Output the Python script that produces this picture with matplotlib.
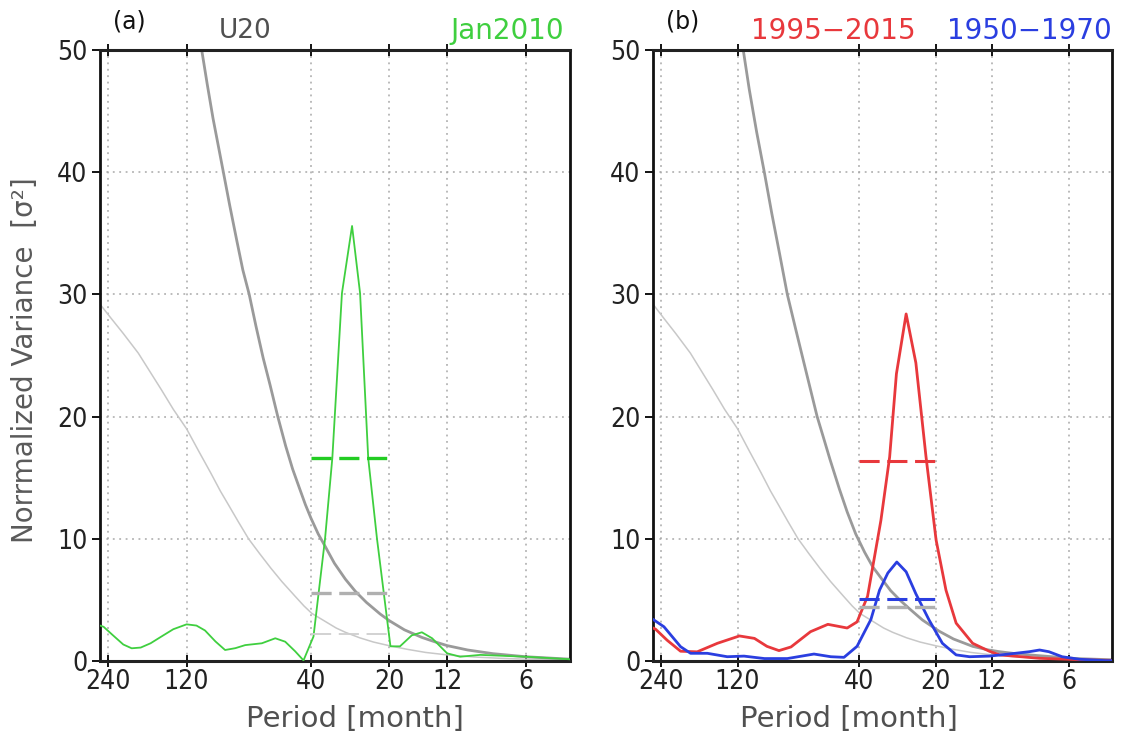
import matplotlib
matplotlib.use("Agg")
import matplotlib.pyplot as plt
from matplotlib.ticker import FixedLocator, NullLocator

# ---------------- data ----------------
tick_periods = [240, 120, 40, 20, 12, 6]
tick_labels = ["240", "120", "40", "20", "12", "6"]
y_ticks = [0, 10, 20, 30, 40, 50]

# red-noise background spectrum (thin) shared by both panels
rn_period = [258, 235, 210, 184, 165, 150, 135, 120, 108, 97, 89, 83, 76, 69.4, 63, 57, 51.7, 46, 42.5,
             39.7, 35, 32, 29.5, 26, 23, 20, 17, 14.5, 12, 9.5, 7.5, 6, 4.05]
rn_value = [29.2, 28.1, 26.8, 25.2, 23.6, 22.2, 20.6, 19.0, 17.2, 15.4, 13.9, 12.8, 11.4, 10.0, 8.8, 7.6, 6.5, 5.3, 4.5,
            3.9, 3.2, 2.7, 2.35, 1.9, 1.55, 1.25, 0.95, 0.7, 0.5, 0.33, 0.22, 0.15, 0.08]

# 95% significance curve, panel (a)
sig_a_period = [105, 100, 95, 90, 86.7, 82, 77, 73, 69, 65, 61, 57.4, 53.6, 50, 47, 44.7, 42, 40, 37.5,
                35.3, 32.5, 29.5, 27, 24.5, 21.7, 20, 17.5, 15, 13.5, 12, 10, 8, 6, 4.05]
sig_a_value = [50, 47.2, 44.4, 41.8, 40, 37.3, 34.4, 32.0, 30, 27.4, 24.8, 22.6, 20, 17.6, 15.7, 14.4, 12.8, 11.7, 10.4,
               9.4, 8.0, 6.7, 5.7, 4.8, 3.85, 3.3, 2.55, 1.93, 1.6, 1.26, 0.9, 0.6, 0.35, 0.15]

# 95% significance curve, panel (b)
sig_b_period = [114, 108, 101, 94.2, 88, 82, 76.5, 71, 66, 62, 58.4, 55, 52, 47.8, 44.5, 41.2, 38, 35.3,
                32.5, 30, 27.5, 25.4, 22.5, 19.4, 17, 14.3, 12.5, 11.2, 9.5, 8, 6.5, 5.6, 4.05]
sig_b_value = [50, 46.8, 43.3, 40, 36.6, 33.3, 30, 27.2, 24.5, 22.2, 20, 18.2, 16.5, 14.1, 12.2, 10.4, 8.9, 7.7,
               6.7, 5.75, 4.95, 4.3, 3.35, 2.45, 1.8, 1.2, 0.92, 0.76, 0.58, 0.45, 0.3, 0.2, 0.1]

# Jan2010 spectrum, panel (a)
jan_period = [258, 250, 230, 210, 195, 180, 165, 150, 135, 120, 110, 102, 93, 85.4, 78, 71.5, 61.7, 54.8, 50.2, 46, 42.7,
              39.1, 35.3, 33.1, 30.4, 27.8, 25.9, 24.1, 22.3, 19.8, 18.2, 16.4, 15.0, 13.7, 12, 10.7, 8.95, 6, 4.05]
jan_value = [2.9, 2.8, 2.1, 1.35, 1.04, 1.1, 1.45, 2.0, 2.6, 3.0, 2.9, 2.5, 1.6, 0.9, 1.05, 1.3, 1.45, 1.86, 1.58, 0.8, 0.05,
             2.0, 10.0, 16.6, 30.1, 35.6, 30.1, 16.6, 10.0, 1.2, 1.2, 2.1, 2.35, 1.86, 0.63, 0.35, 0.5, 0.35, 0.14]

# 1995-2015 spectrum, panel (b)
red_period = [258, 252, 227, 201, 173, 144, 118, 103, 92, 82.5, 74, 62, 53, 44.5, 40.7, 37, 32.8,
              30.3, 28.5, 26.1, 23.9, 21.8, 19.9, 18.2, 16.6, 14.3, 12.3, 11.2, 7.8, 4.96, 4.05]
red_value = [2.7, 2.6, 1.7, 0.8, 0.75, 1.45, 2.05, 1.85, 1.2, 0.85, 1.15, 2.4, 3.0, 2.7, 3.2, 5.3, 11.5,
             16.7, 23.5, 28.4, 24.4, 16.7, 9.9, 5.8, 3.1, 1.45, 0.8, 0.5, 0.22, 0.08, 0.05]

# 1950-1970 spectrum, panel (b)
blue_period = [258, 255.6, 233.6, 201, 183.6, 157.8, 131.7, 113.2, 94.1, 76.5, 60.1, 51.6, 45.8, 40.7,
               35.9, 33.2, 30.8, 28.4, 26.1, 23.9, 21.2, 18.8, 16.6, 14.7, 12.3, 10.3, 8.57, 7.8, 7.17,
               6.36, 5.43, 4.28, 4.05]
blue_value = [3.4, 3.35, 2.8, 1.17, 0.63, 0.63, 0.35, 0.4, 0.2, 0.2, 0.57, 0.35, 0.3, 1.2,
              3.4, 5.8, 7.2, 8.1, 7.3, 5.5, 3.35, 1.45, 0.5, 0.35, 0.4, 0.57, 0.76, 0.9, 0.76,
              0.35, 0.14, 0.03, 0.03]

# band means over the 40-20 month band
band = [40, 20]
jan_band_mean = 16.6
sig_a_band_mean = 5.6
rn_a_band_mean = 2.2
red_band_mean = 16.4
blue_band_mean = 5.05
sig_b_band_mean = 4.45

# ---------------- style ----------------
GREEN = "#3fcf3f"
GREEN_D = "#22cc22"
RED = "#e8383c"
BLUE = "#2a3ee0"
SIG_GRAY = "#9a9a9a"
RN_GRAY = "#c8c8c8"
TEXT_GRAY = "#505050"
FONT = ["DejaVu Sans"]

fig = plt.figure(figsize=(11.35, 7.4), dpi=100)
ax_a = fig.add_axes([100 / 1135, 1 - 661 / 740, 470 / 1135, 611 / 740])
ax_b = fig.add_axes([653 / 1135, 1 - 661 / 740, 459 / 1135, 611 / 740])


def frame(ax):
    ax.set_xscale("log")
    ax.set_xlim(258, 4.05)
    ax.set_ylim(0, 50)
    ax.xaxis.set_major_locator(FixedLocator(tick_periods))
    ax.xaxis.set_minor_locator(NullLocator())
    ax.set_xticklabels(tick_labels)
    ax.set_yticks(y_ticks)
    for lab in ax.get_xticklabels() + ax.get_yticklabels():
        lab.set_fontfamily(FONT)
        lab.set_fontstretch("condensed")
        lab.set_fontsize(19)
        lab.set_color("#222222")
    ax.tick_params(axis="x", direction="inout", length=9, width=1.3, pad=1, top=True)
    ax.tick_params(axis="y", direction="out", length=6, width=1.3, pad=3)
    for p in tick_periods:
        ax.axvline(p, color="#a8a8a8", lw=1.1, ls=(0, (1.2, 3.0)), zorder=0)
    for v in y_ticks[1:-1]:
        ax.axhline(v, color="#a8a8a8", lw=1.1, ls=(0, (1.2, 3.0)), zorder=0)
    for side in ("left", "right"):
        ax.spines[side].set_linewidth(2.0)
        ax.spines[side].set_color("#111111")
    for side in ("top", "bottom"):
        ax.spines[side].set_linewidth(2.2)
        ax.spines[side].set_color("#222222")
        ax.spines[side].set_linestyle((0, (1.5, 1.0)))


def band_line(ax, value, color, lw):
    ax.plot(band, [value, value], color=color, lw=lw,
            ls=(0, (14.5 / lw, 5.5 / lw)), solid_capstyle="butt", dash_capstyle="butt", zorder=4)


# panel (a)
frame(ax_a)
ax_a.plot(rn_period, rn_value, color=RN_GRAY, lw=1.1, zorder=2)
ax_a.plot(sig_a_period, sig_a_value, color=SIG_GRAY, lw=2.0, zorder=2)
ax_a.plot(jan_period, jan_value, color=GREEN, lw=1.3, zorder=3)
band_line(ax_a, jan_band_mean, GREEN_D, 2.4)
band_line(ax_a, sig_a_band_mean, "#b0b0b0", 2.4)
band_line(ax_a, rn_a_band_mean, "#cfcfcf", 1.3)

# panel (b)
frame(ax_b)
ax_b.plot(rn_period, rn_value, color=RN_GRAY, lw=1.1, zorder=2)
ax_b.plot(sig_b_period, sig_b_value, color=SIG_GRAY, lw=2.0, zorder=2)
ax_b.plot(red_period, red_value, color=RED, lw=2.0, zorder=3)
ax_b.plot(blue_period, blue_value, color=BLUE, lw=2.0, zorder=3)
band_line(ax_b, sig_b_band_mean, "#b0b0b0", 2.4)
band_line(ax_b, red_band_mean, RED, 2.2)
band_line(ax_b, blue_band_mean, BLUE, 2.2)

# headers
fig.text(113 / 1135, 1 - 22 / 740, "(a)", fontsize=17, color="#111111", va="center", family=FONT)
fig.text(245 / 1135, 1 - 31 / 740, "U20", fontsize=19, color=TEXT_GRAY, ha="center", va="center", family=FONT)
fig.text(564 / 1135, 1 - 31 / 740, "Jan2010", fontsize=20, color=GREEN, ha="right", va="center", family=FONT)
fig.text(666 / 1135, 1 - 22 / 740, "(b)", fontsize=17, color="#111111", va="center", family=FONT)
fig.text(833 / 1135, 1 - 31 / 740, "1995\u22122015", fontsize=20, color=RED, ha="center", va="center", family=FONT)
fig.text(1112 / 1135, 1 - 31 / 740, "1950\u22121970", fontsize=20, color=BLUE, ha="right", va="center", family=FONT)

# axis titles
fig.text(355 / 1135, 1 - 719 / 740, "Period [month]", fontsize=21, color=TEXT_GRAY, ha="center", va="center", family=FONT)
fig.text(849 / 1135, 1 - 719 / 740, "Period [month]", fontsize=21, color=TEXT_GRAY, ha="center", va="center", family=FONT)
fig.text(25 / 1135, 1 - 360 / 740, "Norrmalized Variance  [\u03c3\u00b2]", fontsize=20, color="#5a5a5a",
         ha="center", va="center", rotation=90, family=FONT)

fig.savefig("out.png", dpi=100, facecolor="white")
